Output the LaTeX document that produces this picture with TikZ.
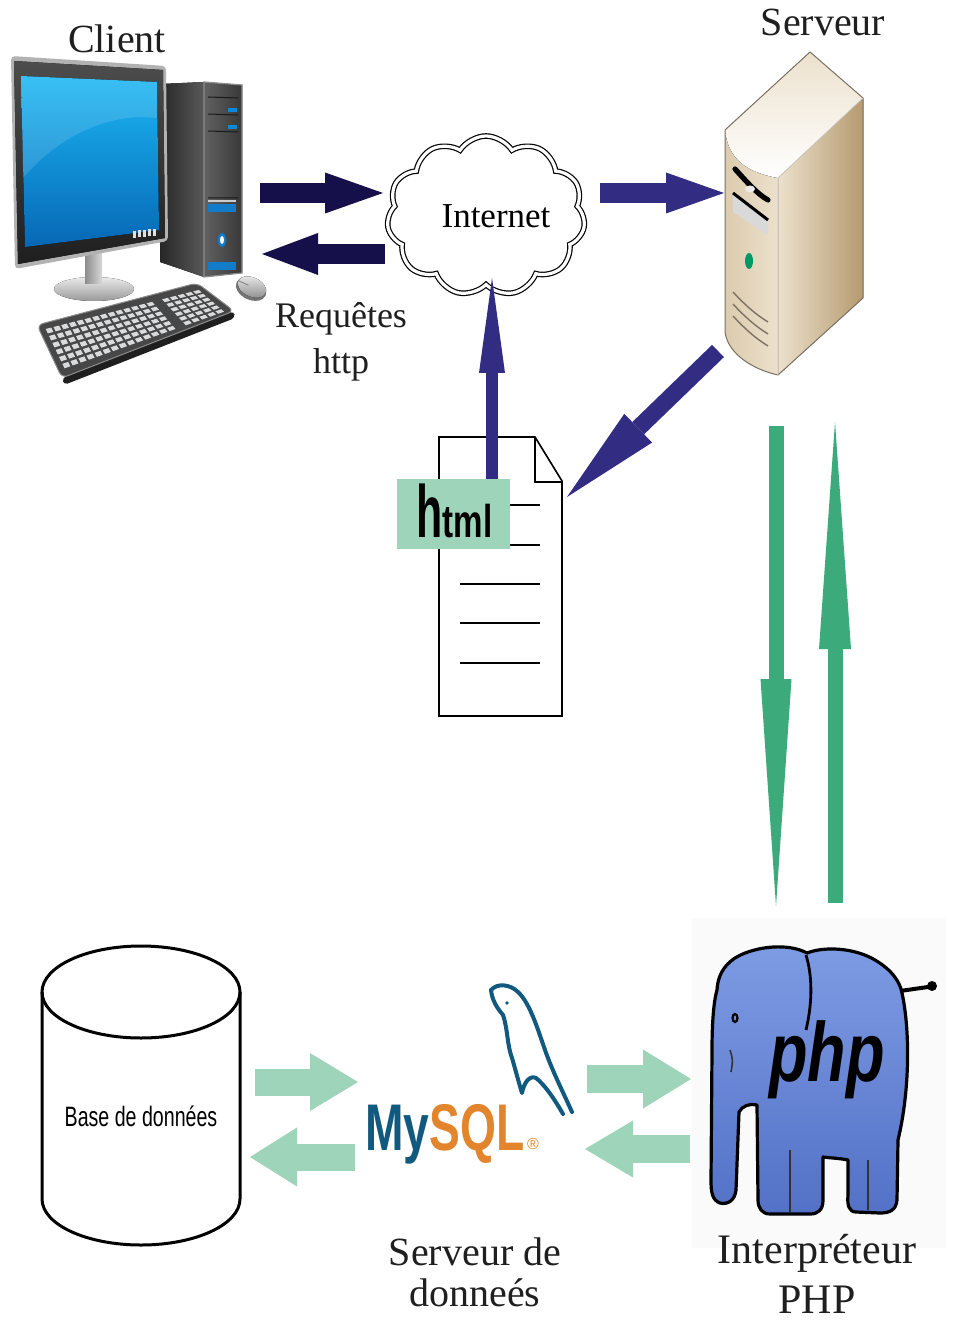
\documentclass[tikz,border=0pt]{standalone}
\usepackage{fontspec}
\usepackage{graphicx}
\setmainfont{Liberation Serif}
\newfontfamily\sansfam{Liberation Sans}
\usetikzlibrary{arrows.meta,shapes.symbols}

\definecolor{navydark}{HTML}{15104A}
\definecolor{navymid}{HTML}{322C82}
\definecolor{greendark}{HTML}{3DAA7B}
\definecolor{greenlight}{HTML}{9ED5BA}
\definecolor{elephanttop}{HTML}{7E9CE4}
\definecolor{elephantbot}{HTML}{5371C6}
\definecolor{sqlblue}{HTML}{11597F}
\definecolor{sqlorange}{HTML}{E2852C}
\definecolor{keygrey}{HTML}{D9DADC}
\definecolor{screenhi}{HTML}{1BB7F3}
\definecolor{screenlo}{HTML}{0767B5}
\definecolor{caselight}{HTML}{ECE1CD}
\definecolor{casedark}{HTML}{B69A6F}
\definecolor{casemid}{HTML}{DCCBAE}
\definecolor{caseedge}{HTML}{7C7263}

% bilinear point on the keyboard key area: #1 along, #2 across, result in #3,#4
\newcommand\kbpt[4]{%
  \pgfmathsetmacro#3{(1-(#2))*((1-(#1))*44+(#1)*199)+(#2)*((1-(#1))*64+(#1)*226)}%
  \pgfmathsetmacro#4{(1-(#2))*((1-(#1))*328+(#1)*289)+(#2)*((1-(#1))*370+(#1)*312)}}

\begin{document}
\begin{tikzpicture}[x=0.5pt,y=-0.5pt,
  lbl/.style={inner sep=0pt, align=center, text=black!88},
  barrow/.style n args={3}{line width=#1, -{Triangle[length=#2,width=#3,line width=0pt]}},
  holder/.style n args={2}{inner sep=0pt, minimum width=#1, minimum height=#2}]

\useasboundingbox (0,0) rectangle (952,1325);
\fill[white] (0,0) rectangle (952,1325);

% ---------- named places ----------
\node[holder={118pt}{165pt}] (client) at (127,215) {};
\node[holder={70pt}{165pt}] (server) at (794,214) {};
\node[holder={61.5pt}{139.5pt}] (doc) at (500.5,576.5) {};
\node[holder={127pt}{165pt}] (php) at (819,1083) {};
\node[holder={100pt}{150pt}] (db) at (141,1095) {};

% ---------- client computer ----------
% tower
\fill[left color=black!85, right color=black!65] (160,84) -- (204,82) -- (204,277) -- (160,262) -- cycle;
\fill[left color=black!62, right color=black!78] (204,82) -- (242,85) -- (242,273) -- (204,277) -- cycle;
\draw[black!45, line width=0.6pt] (204,82) -- (242,85) -- (242,273) -- (204,277) -- cycle;
\draw[black!90, line width=0.5pt] (208,97) -- (238,98) (208,114) -- (238,115) (208,131) -- (238,132) (208,198) -- (238,198);
\fill[cyan!70!blue] (228,108) rectangle (237,112);
\fill[cyan!70!blue] (228,125) rectangle (237,129);
\fill[black!20] (208,200) rectangle (236,202);
\fill[cyan!60!blue] (208,204) rectangle (236,212);
\fill[cyan!60!blue] (222,240) ellipse [x radius=4, y radius=7];
\fill[white] (222,240) ellipse [x radius=2, y radius=4];
\fill[cyan!60!blue] (208,262) rectangle (236,270);
% stand
\fill[top color=black!8, bottom color=black!40] (94,289) ellipse [x radius=40, y radius=12];
\fill[left color=black!45, right color=black!15] (85,250) -- (102,250) -- (102,284) -- (85,284) -- cycle;
% monitor
\fill[black!30, rounded corners=2pt] (11,56) -- (166,66) -- (168,241) -- (15,269) -- cycle;
\fill[top color=black!70, bottom color=black!88] (14,61) -- (163,70) -- (165,238) -- (18,264) -- cycle;
\fill[top color=screenhi, bottom color=screenlo] (21,76) -- (157,82) -- (159,230) -- (25,247) -- cycle;
\fill[white, opacity=0.13] (21,76) -- (157,82) -- (157,118) .. controls (105,112) and (55,140) .. (23,178) -- cycle;
\foreach \k in {0,...,4} \fill[black!12] (133+\k*5,238-\k*0.6) rectangle +(3,-7);
% keyboard
\fill[black!88, rounded corners=2pt] (62,378) -- (234,311) -- (235,318) -- (64,385) -- cycle;
\fill[black!72, rounded corners=3pt] (37,325) -- (197,283) -- (234,311) -- (62,378) -- cycle;
\draw[black!45, line width=0.5pt, rounded corners=3pt] (37,325) -- (197,283) -- (234,311) -- (62,378) -- cycle;
\foreach \i in {0,...,13,15,16,17,18,19}{
  \foreach \j in {0,...,5}{
    \pgfmathsetmacro\sa{(\i+0.14)/20}
    \pgfmathsetmacro\sb{(\i+0.86)/20}
    \pgfmathsetmacro\ta{(\j+0.18)/6}
    \pgfmathsetmacro\tb{(\j+0.82)/6}
    \kbpt{\sa}{\ta}{\xa}{\ya}
    \kbpt{\sb}{\ta}{\xb}{\yb}
    \kbpt{\sb}{\tb}{\xc}{\yc}
    \kbpt{\sa}{\tb}{\xd}{\yd}
    \fill[keygrey] (\xa,\ya) -- (\xb,\yb) -- (\xc,\yc) -- (\xd,\yd) -- cycle;
  }}
% mouse
\begin{scope}[shift={(252,287)}, rotate=-25]
  \fill[black!55] (0,2) ellipse [x radius=16, y radius=11];
  \fill[top color=black!8, bottom color=black!45] (0,0) ellipse [x radius=15, y radius=9.5];
  \draw[black!50, line width=0.4pt] (-15,0) -- (-4,0);
\end{scope}

% ---------- server ----------
\fill[left color=caselight, right color=casedark] (778,178) -- (863,98) -- (863,298) -- (778,375) -- cycle;
\fill[left color=casemid, right color=caselight] (725,130) -- (725,332) .. controls (728,355) and (755,370) .. (778,375) -- (778,178) .. controls (745,172) and (728,158) .. (725,130) -- cycle;
\fill[bottom color=white, top color=caselight] (725,130) -- (810,52) -- (863,98) -- (778,178) .. controls (745,172) and (728,158) .. (725,130) -- cycle;
\draw[caseedge, line width=0.5pt, line join=round] (725,130) -- (810,52) -- (863,98) -- (863,298) -- (778,375) .. controls (755,370) and (728,355) .. (725,332) -- cycle;
\draw[caseedge!40, line width=0.4pt] (778,178) -- (863,98) (778,178) -- (778,375);
\draw[black, line width=2.6pt, line cap=round] (735,169) .. controls (746,181) and (757,194) .. (768,200);
\fill[black!8] (750,189) ellipse [x radius=5, y radius=3.5];
\fill[black!15] (733,192) -- (768,219) -- (768,235) -- (733,212) -- cycle;
\draw[black, line width=1.5pt] (733,193) -- (768,220);
\fill[teal!80!green] (749,261) ellipse [x radius=4, y radius=8];
\foreach \d in {0,12,24}
  \draw[caseedge, line width=0.7pt] (733,292+\d) .. controls (744,304+\d) and (755,314+\d) .. (768,322+\d);

% ---------- internet cloud ----------
\node[cloud, cloud puffs=11, cloud puff arc=115, cloud ignores aspect,
      minimum width=99pt, minimum height=80pt, inner sep=0pt,
      draw, line width=0.6pt, double, double distance=1.6pt,
      font=\fontsize{17.5}{20}\selectfont] (internet) at (486,216) {\hspace*{10pt}Internet};

% ---------- html document ----------
\draw[line width=0.8pt, fill=white] (439,437) -- (535,437) -- (562,481) -- (562,716) -- (439,716) -- cycle;
\draw[line width=0.8pt] (535,437) -- (535,482) -- (562,482);
\foreach \yy in {505,545,584,623,663} \draw[line width=1.2pt] (460,\yy) -- (540,\yy);

% ---------- database ----------
\draw[line width=1.5pt, fill=white] (42,992) -- (42,1199) arc[start angle=180, end angle=0, x radius=99, y radius=46] -- (240,992);
\draw[line width=1.5pt] (141,992) ellipse [x radius=99, y radius=46];
\node[font=\sansfam\fontsize{14}{16}\selectfont, inner sep=0pt, text=black] (dbtext) at (141,1116) {\scalebox{0.7}[1]{Base de données}};

% ---------- php elephant ----------
\fill[black!2] (692,918) rectangle (946,1248);
\draw[black, line width=2pt] (900,991) -- (928,987);
\fill[black] (932,986) circle [radius=5];
\filldraw[top color=elephanttop, bottom color=elephantbot, draw=black, line width=1.6pt, line join=round]
  (717,990) .. controls (718,970) and (730,958) .. (748,952)
  .. controls (765,946) and (790,944) .. (807,953)
  .. controls (825,946) and (855,948) .. (875,960)
  .. controls (892,970) and (900,982) .. (902,993)
  .. controls (910,1030) and (910,1090) .. (898,1140)
  -- (897,1200) .. controls (896,1210) and (890,1213) .. (880,1213)
  -- (856,1212) .. controls (849,1212) and (847,1205) .. (848,1195)
  -- (848,1160) .. controls (838,1158) and (830,1158) .. (823,1157)
  -- (823,1200) .. controls (823,1210) and (818,1214) .. (810,1214)
  -- (770,1214) .. controls (762,1214) and (758,1208) .. (758,1200)
  -- (757,1105) .. controls (750,1103) and (742,1106) .. (739,1112)
  -- (736,1190) .. controls (735,1200) and (728,1205) .. (720,1203)
  .. controls (712,1200) and (711,1192) .. (711,1180)
  -- (712,1050) .. controls (712,1020) and (714,1000) .. (717,990) -- cycle;
\draw[black, line width=1.4pt] (806,955) .. controls (812,975) and (813,1000) .. (806,1030);
\draw[black, line width=1.1pt] (735,1018) ellipse [x radius=2.5, y radius=4];
\draw[black!80, line width=0.8pt] (790,1150) -- (790,1212) (868,1160) -- (868,1210) (730,1050) .. controls (733,1060) .. (731,1072);
\node[font=\sansfam\bfseries\itshape\fontsize{42}{42}\selectfont, inner sep=0pt] (phptext) at (827,1060) {\scalebox{0.75}[1]{php}};

% ---------- mysql logo ----------
\draw[sqlblue, line width=2pt, line cap=round, line join=round]
  (491,990) .. controls (497,983) and (510,984) .. (518,992)
  .. controls (530,1003) and (538,1030) .. (545,1050)
  .. controls (552,1070) and (562,1090) .. (572,1112);
\draw[sqlblue, line width=2pt, line cap=round, line join=round]
  (491,990) .. controls (492,1000) and (497,1008) .. (503,1015)
  .. controls (508,1030) and (507,1045) .. (512,1058)
  .. controls (515,1068) and (518,1080) .. (522,1093)
  .. controls (524,1082) and (530,1075) .. (536,1078)
  .. controls (545,1085) and (555,1100) .. (563,1114);
\fill[sqlblue] (507,1003) circle [radius=1.8];
\node[anchor=base west, inner sep=0pt, font=\sansfam\bfseries\fontsize{33}{33}\selectfont] (mysql) at (365,1150)
  {\scalebox{0.7}[1]{\textcolor{sqlblue}{My}\textcolor{sqlorange}{SQL}}};
\node[inner sep=0pt, text=sqlorange, font=\sansfam\fontsize{8}{8}\selectfont] (reg) at (533,1144) {®};

% ---------- connectors ----------
\coordinate (cliOut) at (260,193);  \coordinate (netIn) at (383,193);
\coordinate (netOut) at (385,254);  \coordinate (cliIn) at (262,254);
\coordinate (netOut2) at (600,193); \coordinate (srvIn) at (724,193);
\coordinate (srvOut) at (718,351);  \coordinate (docIn) at (567,497);
\coordinate (docOut) at (492,479);  \coordinate (netIn2) at (492,278);
\coordinate (srvDown) at (776,426); \coordinate (phpIn) at (776,906);
\coordinate (phpOut) at (835,903);  \coordinate (srvUp) at (835,422);
\coordinate (dbOut) at (255,1082);  \coordinate (sqlIn) at (358,1082);
\coordinate (sqlOut) at (355,1157); \coordinate (dbIn) at (250,1157);
\coordinate (sqlOut2) at (587,1079); \coordinate (phpIn2) at (691,1079);
\coordinate (phpOut2) at (690,1149); \coordinate (sqlIn2) at (585,1149);

\draw[navydark, barrow={10pt}{29pt}{20.5pt}] (cliOut) -- (netIn);
\draw[navydark, barrow={10pt}{28pt}{21pt}] (netOut) -- (cliIn);
\draw[navymid, barrow={10pt}{29pt}{20.5pt}] (netOut2) -- (srvIn);
\draw[navymid, barrow={8.5pt}{49.5pt}{20pt}] (srvOut) -- (docIn);
\draw[navymid, barrow={6pt}{47.5pt}{13pt}] (docOut) -- (netIn2);
\draw[greendark, barrow={7.5pt}{113.5pt}{15.5pt}] (srvDown) -- (phpIn);
\draw[greendark, barrow={7.5pt}{113.5pt}{16pt}] (phpOut) -- (srvUp);
\draw[greenlight, barrow={13.5pt}{24pt}{29pt}] (dbOut) -- (sqlIn);
\draw[greenlight, barrow={13.5pt}{23.5pt}{29.5pt}] (sqlOut) -- (dbIn);
\draw[greenlight, barrow={14pt}{24pt}{29.5pt}] (sqlOut2) -- (phpIn2);
\draw[greenlight, barrow={14pt}{24pt}{28.5pt}] (phpOut2) -- (sqlIn2);

% html tag over the document
\node[fill=greenlight, minimum width=56.5pt, minimum height=35pt, inner sep=0pt] (htmltag) at (453.5,514) {};
\node[anchor=base west, inner sep=0pt, font=\sansfam\bfseries] (htmltext) at (416,538)
  {{\fontsize{37}{37}\selectfont\scalebox{0.58}[1]{h}}{\fontsize{23}{23}\selectfont\scalebox{0.72}[1]{tml}}};

% ---------- labels ----------
\node[lbl, font=\fontsize{20}{22}\selectfont] (clientlbl) at (117,39) {Client};
\node[lbl, font=\fontsize{20}{22}\selectfont] (serverlbl) at (823,22) {Serveur};
\node[lbl, font=\fontsize{18}{23}\selectfont] (httplbl) at (341,342) {Requêtes\\http};
\node[lbl, font=\fontsize{20}{20.5}\selectfont] (sqllbl) at (475,1272) {Serveur de\\donneés};
\node[lbl, font=\fontsize{21}{25}\selectfont] (phplbl) at (817,1274) {Interpréteur\\PHP};

\end{tikzpicture}
\end{document}
